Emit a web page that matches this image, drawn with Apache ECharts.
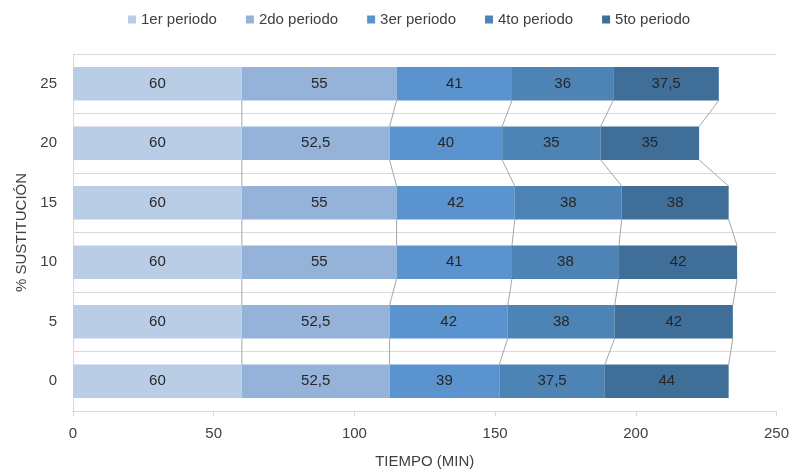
<!DOCTYPE html>
<html>
<head>
<meta charset="utf-8">
<script src="https://cdn.jsdelivr.net/npm/echarts@6/dist/echarts.min.js"></script>
<style>html,body{margin:0;padding:0;background:#fff}#c{width:792px;height:474px}</style>
</head>
<body>
<div id="c"></div>
<script>
const categories = ['0', '5', '10', '15', '20', '25'];
const seriesNames = ['1er periodo', '2do periodo', '3er periodo', '4to periodo', '5to periodo'];
const p1 = [60, 60, 60, 60, 60, 60];
const p2 = [52.5, 52.5, 55, 55, 52.5, 55];
const p3 = [39, 42, 41, 42, 40, 41];
const p4 = [37.5, 38, 38, 38, 35, 36];
const p5 = [44, 42, 42, 38, 35, 37.5];
const xTicks = [0, 50, 100, 150, 200, 250];
const colors = ['#bacde6', '#95b3d9', '#5a93cd', '#4e83b5', '#3f6f99'];

const values = [p1, p2, p3, p4, p5];
const BAR = 0.56;
const font = 'Liberation Sans';

// cumulative ends per series
const cum = values.map((_, s) => categories.map((__, i) => {
  let t = 0; for (let k = 0; k <= s; k++) t += values[k][i]; return t;
}));

const barSeries = values.map((v, s) => ({
  name: seriesNames[s],
  type: 'bar',
  stack: 'total',
  barWidth: (BAR * 100) + '%',
  data: v,
  itemStyle: { color: colors[s] },
  label: {
    show: true,
    position: 'inside',
    color: '#262626',
    fontFamily: font,
    fontSize: 15,
    formatter: p => String(p.value).replace('.', ',')
  },
  z: 3
}));

const lineData = [];
for (let s = 0; s < values.length; s++) {
  for (let i = 0; i < categories.length - 1; i++) {
    lineData.push([cum[s][i], i, cum[s][i + 1]]);
  }
}

const seriesLines = {
  type: 'custom',
  silent: true,
  z: 2,
  renderItem: function (params, api) {
    const i = api.value(1);
    const a = api.coord([api.value(0), i]);
    const b = api.coord([api.value(2), i + 1]);
    const h = api.size([0, 1])[1] * BAR / 2;
    return {
      type: 'line',
      shape: { x1: a[0], y1: a[1] - h, x2: b[0], y2: b[1] + h },
      style: { stroke: '#a6a6a6', lineWidth: 1 }
    };
  },
  data: lineData,
  encode: { x: [0, 2], y: 1 }
};

const chart = echarts.init(document.getElementById('c'), null, { renderer: 'canvas' });
chart.setOption({
  animation: false,
  backgroundColor: '#ffffff',
  color: colors,
  legend: {
    data: seriesNames,
    top: 7,
    left: 123,
    itemWidth: 8,
    itemHeight: 8,
    itemGap: 29,
    icon: 'rect',
    textStyle: { fontFamily: font, fontSize: 15, color: '#404040' }
  },
  grid: { left: 73, right: 12, top: 54, bottom: 59, containLabel: false },
  xAxis: {
    type: 'value',
    min: xTicks[0],
    max: xTicks[xTicks.length - 1],
    interval: 50,
    name: 'TIEMPO (MIN)',
    nameLocation: 'middle',
    nameGap: 43,
    nameTextStyle: { fontFamily: font, fontSize: 15, color: '#404040' },
    axisLine: { show: true, lineStyle: { color: '#d9d9d9' } },
    axisTick: { show: true, length: 5, lineStyle: { color: '#d9d9d9' } },
    axisLabel: { fontFamily: font, fontSize: 15, color: '#404040', margin: 15 },
    splitLine: { show: false }
  },
  yAxis: {
    type: 'category',
    data: categories,
    name: '% SUSTITUCIÓN',
    nameLocation: 'middle',
    nameGap: 43,
    nameTextStyle: { fontFamily: font, fontSize: 15, color: '#404040' },
    axisLine: { show: true, lineStyle: { color: '#d9d9d9' } },
    axisTick: { show: false },
    axisLabel: { fontFamily: font, fontSize: 15, color: '#404040', margin: 16 },
    splitLine: { show: true, lineStyle: { color: '#d9d9d9', width: 1 } }
  },
  series: [seriesLines].concat(barSeries)
});
</script>
</body>
</html>
